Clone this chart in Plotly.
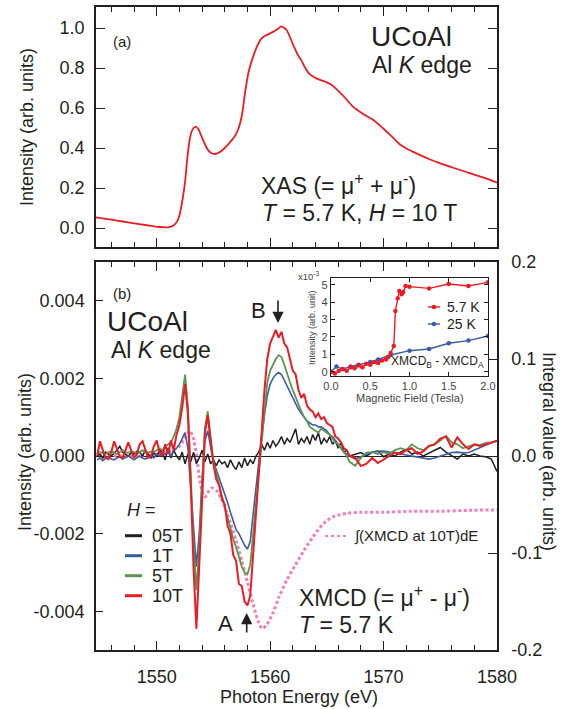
import plotly.graph_objects as go

# ---------------- data ----------------
# (a) Al K-edge XAS of UCoAl, T = 5.7 K, H = 10 T
xas_energy = [1544.65, 1545.5, 1546.5, 1547.5, 1548.5, 1549.5, 1550.3, 1550.8, 1551.2, 1551.5,
              1551.8, 1552.05, 1552.3, 1552.5, 1552.7, 1552.9, 1553.1, 1553.3, 1553.5, 1553.7,
              1553.9, 1554.2, 1554.5, 1554.8, 1555.1, 1555.4, 1555.7, 1556.0, 1556.3, 1556.6,
              1556.9, 1557.2, 1557.5, 1557.8, 1558.1, 1558.5, 1558.9, 1559.25, 1559.6, 1560.0,
              1560.3, 1560.6, 1561.0, 1561.45, 1562.0, 1562.4, 1562.75, 1563.1, 1563.5, 1564.0,
              1564.4, 1564.9, 1565.3, 1565.7, 1566.15, 1566.7, 1567.3, 1568.2, 1569.1, 1569.7,
              1570.3, 1570.9, 1571.4, 1572.1, 1572.9, 1574.0, 1575.0, 1576.2, 1577.3, 1578.7,
              1580.0]
xas_intensity = [0.053, 0.046, 0.037, 0.028, 0.019, 0.011, 0.005, 0.003, 0.006, 0.014,
                 0.033, 0.073, 0.15, 0.23, 0.35, 0.44, 0.485, 0.502, 0.505, 0.492,
                 0.465, 0.425, 0.392, 0.375, 0.37, 0.374, 0.385, 0.4, 0.418, 0.438,
                 0.46, 0.495, 0.56, 0.68, 0.78, 0.857, 0.915, 0.948, 0.962, 0.973,
                 0.982, 0.992, 1.008, 0.99, 0.92, 0.87, 0.838, 0.8, 0.768, 0.75,
                 0.741, 0.731, 0.72, 0.702, 0.678, 0.645, 0.607, 0.57, 0.54, 0.512,
                 0.48, 0.448, 0.42, 0.395, 0.373, 0.345, 0.323, 0.3, 0.28, 0.254,
                 0.227]

# (b) XMCD spectra, values in units of 1e-3
xmcd_energy = [
    1544.75, 1545.0, 1545.25, 1545.5, 1545.75, 1546.0, 1546.25, 1546.5, 1546.75, 1547.0,
    1547.25, 1547.5, 1547.75, 1548.0, 1548.25, 1548.5, 1548.75, 1549.0, 1549.25, 1549.5,
    1549.75, 1550.0, 1550.25, 1550.5,
    1550.75, 1551.0, 1551.25, 1551.5, 1551.75, 1552.0, 1552.25, 1552.5,
    1552.75, 1553.0, 1553.25, 1553.5, 1553.75, 1554.0, 1554.25, 1554.5, 1554.75,
    1555.0, 1555.25, 1555.5, 1555.75, 1556.0, 1556.25, 1556.5, 1556.75, 1557.0, 1557.25,
    1557.5, 1557.75, 1558.0,
    1558.25, 1558.5, 1558.75, 1559.0, 1559.25, 1559.5, 1559.75, 1560.0,
    1560.25, 1560.5, 1560.75, 1561.0, 1561.25, 1561.5, 1561.75, 1562.0, 1562.25, 1562.5,
    1562.75, 1563.0, 1563.25, 1563.5, 1563.75, 1564.0, 1564.25, 1564.5, 1564.75, 1565.0,
    1565.25, 1565.5, 1565.75, 1566.0, 1566.25, 1566.5, 1566.75, 1567.0,
    1567.5, 1568.0, 1568.5, 1569.0, 1569.5, 1570.0, 1570.5, 1571.0, 1571.5, 1572.0,
    1572.5, 1573.0, 1573.5, 1574.0, 1574.5, 1575.0, 1575.5, 1576.0, 1576.5, 1577.0,
    1577.5, 1578.0, 1578.5, 1579.0, 1579.5, 1580.0]

xmcd_05T = [
    0.0, 0.05, -0.05, 0.1, 0.05, 0.0, 0.08, 0.15, 0.25, 0.1,
    0.05, 0.0, 0.08, 0.05, 0.12, 0.1, 0.0, 0.15, 0.05, -0.05,
    0.1, 0.0, 0.15, 0.1,
    -0.1, 0.2, -0.05, 0.15, 0.0, -0.1, 0.1, -0.2,
    0.05, -0.15, 0.1, -0.2, -0.05, 0.15, -0.15, 0.05, -0.2,
    -0.1, -0.25, -0.1, -0.2, -0.15, -0.3, -0.1, -0.25, -0.35, -0.15,
    -0.3, -0.05, -0.25,
    -0.1, -0.2, 0.0, 0.1, 0.3, 0.15, 0.35, 0.2,
    0.4, 0.25, 0.35, 0.5, 0.3, 0.45, 0.35, 0.55, 0.7, 0.3,
    0.45, 0.35, 0.5, 0.3, 0.55, 0.4, 0.6, 0.3, 0.45, 0.35,
    0.5, 0.3, 0.4, 0.2, 0.35, 0.1, 0.15, 0.0,
    0.05, 0.09, 0.0, 0.1, 0.13, -0.02, 0.05, 0.0, 0.1, 0.17,
    0.05, 0.1, 0.0, 0.08, 0.15, 0.22, 0.1, 0.0, -0.08, 0.05,
    0.0, 0.05, 0.0, -0.02, -0.08, -0.4]

xmcd_1T = [
    -0.1, -0.05, -0.12, -0.05, 0.0, -0.08, -0.1, -0.05, -0.02, -0.08,
    -0.05, 0.0, -0.05, -0.1, -0.05, 0.0, -0.05, -0.08, -0.02, 0.0,
    -0.05, 0.05, 0.0, 0.08,
    0.05, 0.1, 0.0, 0.15, 0.2, 0.3, 0.45, 0.6,
    0.2, -0.8, -2.0, -2.85, -2.0, -0.6, 0.4, 0.65, 0.25,
    -0.15, -0.35, -0.55, -0.8, -1.0, -1.2, -1.45, -1.7, -1.9, -2.0,
    -2.15, -2.3, -2.4,
    -2.2, -1.5, -0.8, -0.1, 0.5, 1.05, 1.55, 1.85,
    2.0, 2.1, 2.15, 2.1, 1.95, 1.8, 1.65, 1.5, 1.35, 1.2,
    1.1, 1.0, 0.9, 0.85, 0.8, 0.8, 0.75, 0.75, 0.7, 0.65,
    0.55, 0.5, 0.4, 0.3, 0.2, 0.1, 0.05, 0.0,
    -0.08, -0.02, 0.05, 0.1, 0.12, 0.13, 0.1, 0.09, 0.05, 0.02,
    0.0, -0.03, -0.05, -0.08, -0.05, 0.0, 0.05, 0.09, 0.1, 0.08,
    0.09, 0.15, 0.22, 0.28, 0.33, 0.4]

xmcd_5T = [
    0.05, 0.1, 0.08, 0.05, 0.1, 0.12, 0.08, 0.05, 0.1, 0.15,
    0.1, 0.08, 0.12, 0.1, 0.05, 0.1, 0.15, 0.1, 0.08, 0.12,
    0.1, 0.15, 0.2, 0.15,
    0.25, 0.3, 0.35, 0.5, 0.7, 1.0, 1.5, 2.1,
    1.3, -0.5, -2.3, -3.45, -2.4, -0.8, 0.7, 1.15, 0.5,
    -0.15, -0.45, -0.75, -1.05, -1.35, -1.6, -1.85, -2.15, -2.35, -2.6,
    -2.85, -3.0, -3.05,
    -2.8, -2.0, -1.1, -0.3, 0.5, 1.3, 1.9, 2.2,
    2.35, 2.5, 2.6, 2.55, 2.35, 2.1, 1.9, 1.7, 1.5, 1.3,
    1.15, 1.0, 0.9, 0.75, 0.7, 0.65, 0.6, 0.7, 0.65, 0.6,
    0.55, 0.45, 0.35, 0.3, 0.2, 0.1, 0.0, -0.15,
    -0.25, -0.05, 0.09, 0.1, 0.05, 0.1, 0.05, 0.15, 0.2, 0.15,
    0.3, 0.2, 0.15, 0.25, 0.3, 0.4, 0.52, 0.35, 0.3, 0.2,
    0.25, 0.3, 0.28, 0.34, 0.35, 0.39]

xmcd_10T = [
    0.0, 0.38, 0.15, -0.05, -0.08, 0.1, 0.38, 0.2, -0.02, -0.05,
    0.15, 0.35, 0.15, -0.05, 0.05, 0.3, 0.38, 0.15, -0.05, 0.0,
    0.25, 0.4, 0.1, 0.0,
    0.3, 0.05, 0.4, 0.15, 0.55, 0.8, 1.25, 1.85,
    1.1, -0.7, -2.9, -4.45, -3.0, -1.2, 0.6, 1.05, 0.4,
    -0.2, -0.6, -0.75, -1.1, -1.25, -1.8, -2.0, -2.55, -2.7, -3.3,
    -3.35, -3.75, -3.85,
    -3.6, -2.6, -1.5, -0.4, 0.6, 1.7, 2.5, 2.9,
    3.1, 3.25, 3.05, 3.2, 2.9, 2.8, 2.5, 2.2, 2.1, 1.7,
    1.5, 1.6, 1.3, 1.2, 1.15, 1.0, 1.1, 0.95, 1.0, 0.85,
    0.8, 0.75, 0.5, 0.45, 0.35, 0.2, 0.15, 0.0,
    -0.05, -0.26, -0.2, -0.05, -0.18, -0.08, 0.0, 0.09, 0.05, 0.15,
    0.2, 0.05, 0.12, 0.26, 0.3, 0.45, 0.5, 0.22, 0.48, 0.3,
    0.18, 0.3, 0.26, 0.3, 0.35, 0.39]

# integrated XMCD at 10 T (right axis)
integral_energy = [1544.75, 1546.0, 1548.0, 1550.0, 1551.0, 1551.5, 1552.0, 1552.5, 1552.9, 1553.2,
                   1553.5, 1553.8, 1554.1, 1554.3, 1554.6, 1554.9, 1555.3, 1555.7, 1556.1, 1556.5,
                   1557.0, 1557.5, 1558.0, 1558.5, 1559.0, 1559.3, 1559.7, 1560.2, 1560.8, 1561.5,
                   1562.2, 1563.0, 1563.8, 1564.6, 1565.3, 1566.0, 1566.8, 1568.0, 1570.0, 1572.5,
                   1575.0, 1577.5, 1580.0]
integral_10T = [0.0, 0.0, 0.0, 0.002, 0.004, 0.006, 0.01, 0.018, 0.026, 0.02,
                0.002, -0.025, -0.04, -0.042, -0.036, -0.033, -0.036, -0.044, -0.056, -0.069,
                -0.087, -0.108, -0.13, -0.153, -0.172, -0.178, -0.174, -0.163, -0.145, -0.127,
                -0.113, -0.097, -0.083, -0.071, -0.064, -0.061, -0.059, -0.058, -0.058, -0.057,
                -0.057, -0.056, -0.0555]

# inset: XMCD_B - XMCD_A versus field (units of 1e-3)
field_5K7 = [0.0, 0.05, 0.1, 0.15, 0.2, 0.25, 0.3, 0.35, 0.4, 0.45, 0.5, 0.55, 0.6, 0.65, 0.7,
             0.73, 0.76, 0.8, 0.82, 0.85, 0.87, 0.9, 0.92, 0.95, 1.0, 1.25, 1.5, 1.75, 2.0]
diff_5K7 = [0.0, -0.1, 0.05, 0.15, 0.05, 0.25, 0.2, 0.35, 0.25, 0.45, 0.4, 0.55, 0.5, 0.65, 0.7,
            0.85, 1.08, 1.48, 3.5, 4.23, 4.65, 4.46, 4.6, 4.94, 4.9, 4.8, 5.05, 4.94, 5.15]
field_25K = [0.0, 0.07, 0.15, 0.25, 0.35, 0.5, 0.6, 0.76, 1.0, 1.25, 1.5, 1.75, 2.0]
diff_25K = [0.0, 0.3, 0.15, 0.3, 0.4, 0.55, 0.7, 0.96, 1.21, 1.31, 1.64, 1.79, 2.06]

# tick values / labels
energy_ticks = [1550, 1560, 1570, 1580]
xas_ticks = [0.0, 0.2, 0.4, 0.6, 0.8, 1.0]
xas_ticklabels = ["0.0", "0.2", "0.4", "0.6", "0.8", "1.0"]
xmcd_ticks = [-0.004, -0.002, 0.0, 0.002, 0.004]
xmcd_ticklabels = ["-0.004", "-0.002", "0.000", "0.002", "0.004"]
integral_ticks = [-0.2, -0.1, 0.0, 0.1, 0.2]
integral_ticklabels = ["-0.2", "-0.1", "0.0", "0.1", "0.2"]
field_ticks = [0.0, 0.5, 1.0, 1.5, 2.0]
field_ticklabels = ["0.0", "0.5", "1.0", "1.5", "2.0"]
inset_ticks = [0, 1, 2, 3, 4, 5]

# ---------------- styling ----------------
W, H = 576, 709
FONT = "Liberation Sans, Arial, Helvetica, sans-serif"
INK = "#231f20"
GREY = "#444444"
RED = "#ec1c24"
BLUE = "#3b5ba5"
GREEN = "#5c9651"
PINK = "#f27fb9"


def px(x):
    return x / W


def py(y):
    return 1 - y / H


X_DOM = [px(96), px(497)]

fig = go.Figure()

fig.add_trace(go.Scatter(x=xas_energy, y=xas_intensity, mode="lines",
                         line=dict(color=RED, width=1.8, shape="spline", smoothing=0.6),
                         xaxis="x", yaxis="y", hoverinfo="skip", showlegend=False))

fig.add_trace(go.Scatter(x=integral_energy, y=integral_10T, mode="lines",
                         line=dict(color=PINK, width=3, dash="3px,2.5px", shape="spline", smoothing=0.6),
                         xaxis="x2", yaxis="y2", hoverinfo="skip", showlegend=False))

for vals, color, width in [(xmcd_05T, INK, 1.5), (xmcd_1T, BLUE, 1.6),
                           (xmcd_5T, GREEN, 1.8), (xmcd_10T, RED, 2.0)]:
    fig.add_trace(go.Scatter(x=xmcd_energy, y=[v * 1e-3 for v in vals], mode="lines",
                             line=dict(color=color, width=width),
                             xaxis="x2", yaxis="y3", hoverinfo="skip", showlegend=False))

fig.add_trace(go.Scatter(x=field_25K, y=diff_25K, mode="lines+markers",
                         line=dict(color=BLUE, width=1.4), marker=dict(color=BLUE, size=4.5),
                         xaxis="x3", yaxis="y4", hoverinfo="skip", showlegend=False))
fig.add_trace(go.Scatter(x=field_5K7, y=diff_5K7, mode="lines+markers",
                         line=dict(color=RED, width=1.4), marker=dict(color=RED, size=4.5),
                         xaxis="x3", yaxis="y4", hoverinfo="skip", showlegend=False))

axis_common = dict(showgrid=False, zeroline=False, showline=True, linecolor=INK, linewidth=1.5,
                   ticks="inside", tickcolor=INK, tickwidth=1.3, automargin=False,
                   tickfont=dict(family=FONT, size=18, color=INK))
energy_minor = dict(tickmode="linear", tick0=1550, dtick=2, ticks="inside", ticklen=5,
                    tickcolor=INK, tickwidth=1.2)
inset_font = dict(family=FONT, size=11, color=GREY)

fig.update_layout(
    width=W, height=H, autosize=False,
    margin=dict(l=0, r=0, t=0, b=0, pad=0),
    paper_bgcolor="white", plot_bgcolor="white",
    font=dict(family=FONT, color=INK),
    xaxis=dict(axis_common, domain=X_DOM, anchor="y", range=[1544.65, 1580],
               tickvals=energy_ticks, showticklabels=False, ticklen=9, mirror="ticks",
               minor=energy_minor),
    yaxis=dict(axis_common, domain=[py(247), py(7)], anchor="x", range=[-0.095, 1.105],
               tickvals=xas_ticks, ticktext=xas_ticklabels, ticklen=9, mirror="ticks",
               ticklabelstandoff=6),
    xaxis2=dict(axis_common, domain=X_DOM, anchor="y2", range=[1544.65, 1580],
                tickvals=energy_ticks, ticklen=9, mirror="ticks", minor=energy_minor,
                ticklabelstandoff=10),
    yaxis2=dict(axis_common, domain=[py(650), py(262)], anchor="x2", side="right",
                range=[-0.2, 0.2], tickvals=integral_ticks, ticktext=integral_ticklabels,
                ticklen=9, ticklabelstandoff=9),
    yaxis3=dict(axis_common, overlaying="y2", anchor="x2", side="left",
                range=[-0.005, 0.005], tickvals=xmcd_ticks, ticktext=xmcd_ticklabels,
                ticklen=7, ticklabelstandoff=6,
                zeroline=True, zerolinecolor=INK, zerolinewidth=1),
    xaxis3=dict(axis_common, domain=[px(331), px(488)], anchor="y4", range=[0, 2.0],
                tickvals=field_ticks, ticktext=field_ticklabels, ticklen=4, mirror="ticks",
                linewidth=1.2, tickfont=inset_font),
    yaxis4=dict(axis_common, domain=[py(376), py(278)], anchor="x3", range=[-0.25, 5.4],
                tickvals=inset_ticks, ticklen=4, mirror="ticks", linewidth=1.2,
                tickfont=inset_font),
)


def text(t, x, y, size, xanchor="center", angle=0, color=INK):
    return dict(text=t, x=px(x), y=py(y), xref="paper", yref="paper", showarrow=False,
                xanchor=xanchor, yanchor="middle", textangle=angle,
                font=dict(family=FONT, size=size, color=color))


def arrow(x, y_head, y_tail):
    return dict(text="", x=px(x), y=py(y_head), xref="paper", yref="paper",
                showarrow=True, ax=0, ay=y_tail - y_head, axref="pixel", ayref="pixel",
                arrowhead=2, arrowsize=1.4, arrowwidth=1.6, arrowcolor=INK)


annotations = [
    # axis titles
    text("Intensity (arb. units)", 27, 127, 18, angle=-90),
    text("Intensity (arb. units)", 25, 452, 18, angle=-90),
    text("Integral value (arb. units)", 549, 451, 18, angle=90),
    text("Photon Energy (eV)", 299, 697, 18),
    # panel (a)
    text("(a)", 122, 41, 15),
    text("UCoAl", 411, 36, 28),
    text("Al <i>K</i> edge", 370, 65, 23, xanchor="left"),
    text("XAS (= μ<sup>+</sup> + μ<sup>-</sup>)", 259, 184, 23, xanchor="left"),
    text("<i>T</i> = 5.7 K, <i>H</i> = 10 T", 260, 213, 23, xanchor="left"),
    # panel (b)
    text("(b)", 122, 293, 15),
    text("UCoAl", 190, 321, 28, xanchor="right"),
    text("Al <i>K</i> edge", 213, 350, 23, xanchor="right"),
    text("B", 258, 310, 22),
    text("A", 225.5, 623, 22),
    arrow(278, 323, 299),
    arrow(246.7, 613, 634),
    text("XMCD (= μ<sup>+</sup> - μ<sup>-</sup>)", 297, 596, 23, xanchor="left"),
    text("<i>T</i> = 5.7 K", 297, 625, 23, xanchor="left"),
    text("<i>H</i> =", 125, 510, 18, xanchor="left"),
    text("05T", 150, 536, 18, xanchor="left"),
    text("1T", 150, 556, 18, xanchor="left"),
    text("5T", 150, 576, 18, xanchor="left"),
    text("10T", 150, 596, 18, xanchor="left"),
    text("∫(XMCD at 10T)dE", 352, 536, 15, xanchor="left"),
    # inset
    text("x10<sup>-3</sup>", 296, 276, 9.5, xanchor="left", color=GREY),
    text("Intensity (arb. unit)", 312, 328, 9, angle=-90, color=GREY),
    text("Magnetic Field (Tesla)", 410, 398, 11, color=GREY),
    text("XMCD<sub>B</sub> - XMCD<sub>A</sub>", 437, 362, 12),
    text("5.7 K", 445, 307, 14, xanchor="left"),
    text("25 K", 445, 324, 14, xanchor="left"),
]


def hline(x0, x1, y, color, width, dash="solid"):
    return dict(type="line", xref="paper", yref="paper", x0=px(x0), x1=px(x1),
                y0=py(y), y1=py(y), line=dict(color=color, width=width, dash=dash))


def dot(x, y, r, color):
    return dict(type="circle", xref="paper", yref="paper", x0=px(x - r), x1=px(x + r),
                y0=py(y + r), y1=py(y - r), fillcolor=color, line=dict(width=0))


shapes = [
    hline(125, 142, 535.7, INK, 3),
    hline(125, 142, 555.7, BLUE, 3),
    hline(125, 142, 575.7, GREEN, 3),
    hline(125, 142, 595.7, RED, 3),
    hline(325, 348, 536, PINK, 2, dash="dot"),
    hline(428, 440, 307, RED, 1.4),
    dot(434, 307, 2.3, RED),
    hline(428, 440, 324, BLUE, 1.4),
    dot(434, 324, 2.3, BLUE),
]

fig.update_layout(annotations=annotations, shapes=shapes)

fig.write_html("out.html", config={"displayModeBar": False})
